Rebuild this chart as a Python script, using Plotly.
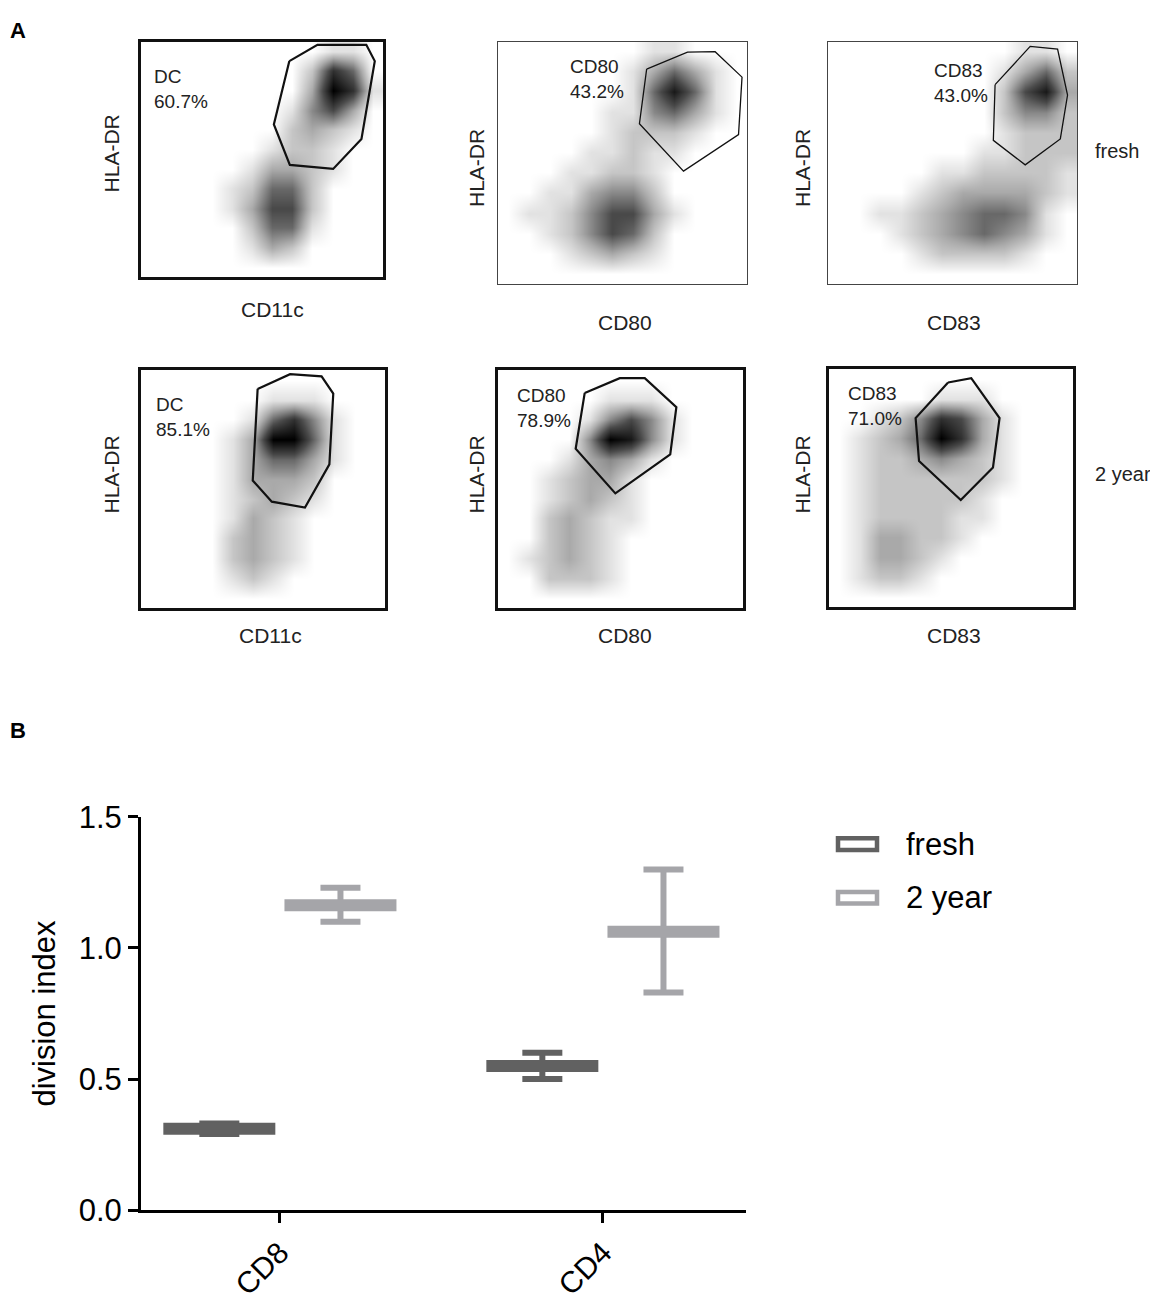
import plotly.graph_objects as go

W, H = 1158, 1309
PAGE = 8  # the page puts the figure 8px in from the top-left corner

# ---------------- panel A: flow dot plots ----------------
# event density, 12 x 12 cells, top row first
# 0 = no events ... 9 = solid black
dens_dc_fresh = [
    "000000000110",
    "000000002750",
    "000000003971",
    "000000014630",
    "000000023210",
    "000000122100",
    "000001332100",
    "000012552000",
    "000013662000",
    "000002551000",
    "000001320000",
    "000000000000",
]
dens_cd80_fresh = [
    "000000011000",
    "000000135310",
    "000000158510",
    "000001145310",
    "000001222100",
    "000011211000",
    "000112210000",
    "001134420000",
    "011246631000",
    "001246520000",
    "000123210000",
    "000000000000",
]
dens_cd83_fresh = [
    "000000000110",
    "000000001352",
    "000000002683",
    "000000002442",
    "000000001222",
    "000000011222",
    "000001122221",
    "000012333321",
    "001123455410",
    "000123454310",
    "000012222100",
    "000000000000",
]
dens_dc_2y = [
    "000000000000",
    "000000111000",
    "000001574100",
    "000013995100",
    "000013553100",
    "000013332000",
    "000012321000",
    "000013210000",
    "000023210000",
    "000023210000",
    "000012100000",
    "000000000000",
]
dens_cd80_2y = [
    "000000000000",
    "000001110000",
    "000014641000",
    "000049841000",
    "000134310000",
    "001233100000",
    "001232100000",
    "002321100000",
    "002321000000",
    "012321000000",
    "002221000000",
    "000000000000",
]
dens_cd83_2y = [
    "000000000000",
    "000001110000",
    "001247631000",
    "012359731000",
    "012234321000",
    "012222221000",
    "012222210000",
    "012222110000",
    "013322100000",
    "013321000000",
    "012210000000",
    "000000000000",
]

# gate polygons (fraction of the plot box)
gate_dc_fresh_x = [.613, .729, .931, .966, .911, .794, .615, .549]
gate_dc_fresh_y = [.917, .986, .986, .917, .586, .459, .476, .648]
gate_cd80_fresh_x = [.597, .761, .872, .980, .966, .745, .568]
gate_cd80_fresh_y = [.886, .956, .958, .853, .616, .465, .661]
gate_cd83_fresh_x = [.671, .812, .922, .962, .933, .792, .664]
gate_cd83_fresh_y = [.822, .980, .969, .779, .598, .491, .592]
gate_dc_2y_x = [.478, .611, .740, .788, .772, .672, .536, .458]
gate_dc_2y_y = [.922, .984, .975, .902, .604, .422, .447, .536]
gate_cd80_2y_x = [.354, .497, .599, .728, .703, .479, .317]
gate_cd80_2y_y = [.905, .967, .967, .845, .646, .482, .670]
gate_cd83_2y_x = [.488, .583, .699, .672, .540, .369, .355]
gate_cd83_2y_y = [.945, .963, .795, .587, .450, .614, .795]

gate_names = ["DC", "CD80", "CD83"]
x_markers = ["CD11c", "CD80", "CD83"]
pct_fresh = ["60.7%", "43.2%", "43.0%"]
pct_2y = ["85.1%", "78.9%", "71.0%"]
row_names = ["fresh", "2 year"]

# ---------------- panel B: division index ----------------
cells = ["CD8", "CD4"]
fresh_mean = [0.31, 0.55]
fresh_min = [0.29, 0.50]
fresh_max = [0.33, 0.60]
year2_mean = [1.163, 1.062]
year2_min = [1.10, 0.83]
year2_max = [1.23, 1.30]

FONT = "Liberation Sans, Arial, sans-serif"
dot_scale = [[0, "#ffffff"], [0.11, "#e2e2e2"], [0.33, "#aaaaaa"],
             [0.66, "#4a4a4a"], [1, "#000000"]]
centers = [(k + 0.5) / 12 for k in range(12)]

FW, FH = W - PAGE, H - 2 * PAGE

# box of each dot plot in page pixels: left, right, top, bottom
boxes = [(141, 383, 25, 267), (498, 747, 25, 274), (828, 1077, 25, 274),
         (141, 385, 363, 607), (498, 743, 363, 607), (829, 1073, 362, 606)]
thick = [True, False, False, True, True, True]
label_pos = [(.045, .905), (.28, .95), (.416, .93),
             (.055, .91), (.068, .945), (.071, .952)]
xtitle_pos = [(272, 300), (625, 314), (954, 314), (270, 635), (625, 635), (954, 635)]
ytitle_pos = [(111, 140), (476, 155), (802, 155), (111, 470), (476, 470), (802, 470)]

dens = [dens_dc_fresh, dens_cd80_fresh, dens_cd83_fresh,
        dens_dc_2y, dens_cd80_2y, dens_cd83_2y]
gates = [(gate_dc_fresh_x, gate_dc_fresh_y), (gate_cd80_fresh_x, gate_cd80_fresh_y),
         (gate_cd83_fresh_x, gate_cd83_fresh_y), (gate_dc_2y_x, gate_dc_2y_y),
         (gate_cd80_2y_x, gate_cd80_2y_y), (gate_cd83_2y_x, gate_cd83_2y_y)]
pcts = pct_fresh + pct_2y


def px(x):
    return (x - PAGE) / FW


def py(y):
    return 1 - (y - PAGE) / FH


def text(s, x, y, size, **kw):
    d = dict(text=s, x=px(x), y=py(y), xref="paper", yref="paper", showarrow=False,
             xanchor="center", yanchor="middle",
             font=dict(size=size, color=kw.pop("color", "#222222"), family=FONT))
    d.update(kw)
    return d


fig = go.Figure()
annotations = []

for i in range(6):
    n = i + 1
    xa = "x" if n == 1 else "x%d" % n
    ya = "y" if n == 1 else "y%d" % n
    z = [[int(c) for c in row] for row in reversed(dens[i])]
    fig.add_trace(go.Heatmap(z=z, x=centers, y=centers, zmin=0, zmax=9,
                             zsmooth="best", colorscale=dot_scale, showscale=False,
                             hoverinfo="skip", xaxis=xa, yaxis=ya))
    gx, gy = gates[i]
    fig.add_trace(go.Scatter(x=gx + gx[:1], y=gy + gy[:1], mode="lines",
                             line=dict(color="#111111", width=2.2 if thick[i] else 1.3),
                             hoverinfo="skip", showlegend=False, xaxis=xa, yaxis=ya))
    l, r, t, b = boxes[i]
    lw = 2.6 if thick[i] else 1.4
    lc = "#111111" if thick[i] else "#444444"
    ax = dict(range=[0, 1], showticklabels=False, ticks="", showgrid=False,
              zeroline=False, showline=True, mirror=True, linewidth=lw, linecolor=lc,
              fixedrange=True)
    fig.layout["xaxis" if n == 1 else "xaxis%d" % n] = dict(ax, domain=[px(l), px(r)], anchor=ya)
    fig.layout["yaxis" if n == 1 else "yaxis%d" % n] = dict(ax, domain=[py(b), py(t)], anchor=xa)

    lx, ly = label_pos[i]
    annotations.append(dict(text=gate_names[i % 3] + "<br>" + pcts[i], x=lx, y=ly,
                            xref=xa + " domain", yref=ya + " domain",
                            xanchor="left", yanchor="top", align="left", showarrow=False,
                            font=dict(size=19, color="#222222", family=FONT)))
    tx, ty = xtitle_pos[i]
    annotations.append(text(x_markers[i % 3], tx, ty, 21))
    tx, ty = ytitle_pos[i]
    annotations.append(text("HLA-DR", tx, ty, 21, textangle=-90))

for name, yy in zip(row_names, [138, 470]):
    annotations.append(text(name, 1093, yy, 20, xanchor="left"))

for letter, yy in zip(["A", "B"], [14, 733]):
    annotations.append(text("<b>%s</b>" % letter, PAGE, yy, 22, xanchor="left",
                            color="black"))

# ---------------- panel B traces ----------------
series = [("fresh", fresh_mean, fresh_min, fresh_max, "#616161"),
          ("2 year", year2_mean, year2_min, year2_max, "#a5a5a9")]
for name, mean, lo, hi, col in series:
    fig.add_trace(go.Scatter(
        x=cells, y=mean, name=name, mode="markers", offsetgroup=name,
        marker=dict(symbol="line-ew", size=80, color=col, line=dict(color=col, width=12)),
        error_y=dict(type="data", symmetric=False,
                     array=[h - m for h, m in zip(hi, mean)],
                     arrayminus=[m - q for m, q in zip(mean, lo)],
                     color=col, thickness=6, width=20),
        showlegend=False, xaxis="x7", yaxis="y7"))

fig.update_layout(
    xaxis7=dict(domain=[px(141), px(746)], anchor="y7", range=[-0.43, 1.443],
                showline=True, linewidth=3, linecolor="black", ticks="outside",
                ticklen=10, tickwidth=3, tickcolor="black", tickangle=-45,
                showgrid=False, zeroline=False,
                tickfont=dict(size=30, color="black", family=FONT)),
    yaxis7=dict(domain=[py(1226), py(822)], anchor="x7", range=[0, 1.5],
                tickvals=[0, 0.5, 1.0, 1.5], tickformat=".1f",
                showline=True, linewidth=3, linecolor="black", ticks="outside",
                ticklen=10, tickwidth=3, tickcolor="black", showgrid=False,
                zeroline=False, tickfont=dict(size=31, color="black", family=FONT),
                title=dict(text="division index", standoff=14,
                           font=dict(size=31, color="black", family=FONT))),
    scattermode="group",
    scattergap=0.25,
)

# legend swatches drawn as hollow boxes like the original
shapes = []
for (name, mean, lo, hi, col), yy in zip(series, [850, 905]):
    shapes.append(dict(type="rect", xref="paper", yref="paper",
                       x0=px(838), x1=px(877), y0=py(yy + 6), y1=py(yy - 6),
                       line=dict(color=col, width=4.5), fillcolor="white"))
    annotations.append(text(name, 904, yy, 31, xanchor="left", color="black"))

fig.update_layout(
    width=FW, height=FH,
    margin=dict(l=0, r=0, t=0, b=0),
    paper_bgcolor="white", plot_bgcolor="white",
    showlegend=False,
    annotations=annotations,
    shapes=shapes,
    font=dict(family=FONT),
)

fig.write_html("out.html")
